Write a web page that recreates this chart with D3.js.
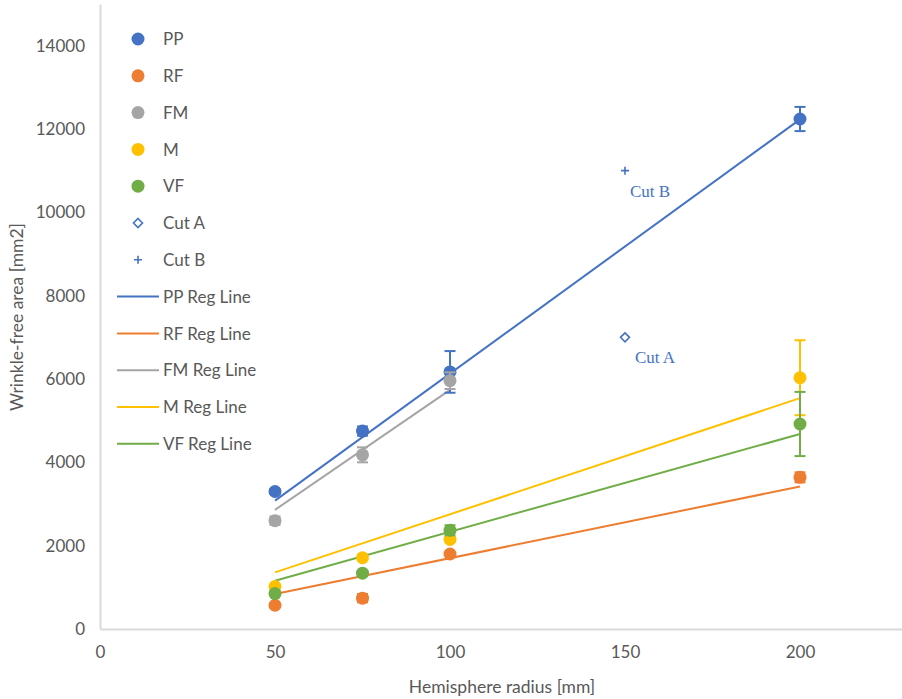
<!DOCTYPE html>
<html><head><meta charset="utf-8">
<script src="https://cdn.jsdelivr.net/npm/d3@7"></script>
<style>body{margin:0;background:#fff}svg{display:block}</style>
</head><body>
<script>
const radii = [50, 75, 100, 200];
const seriesNames = ["PP", "RF", "FM", "M", "VF"];
const colors = ["#4472C4", "#ED7D31", "#A5A5A5", "#FFC000", "#70AD47"];
const ppValues = [3300, 4750, 6170, 12240];
const rfValues = [570, 740, 1800, 3640];
const fmValues = [2600, 4180, 5960, null];
const mValues = [1020, 1710, 2150, 6030];
const vfValues = [850, 1340, 2370, 4920];
const ppErr = [60, 110, 500, 290];
const rfErr = [40, 100, 40, 120];
const fmErr = [100, 180, 200, null];
const mErr = [40, 40, 40, 900];
const vfErr = [40, 40, 120, 770];
// regression line endpoints [x0, y0, x1, y1]
const ppReg = [50, 3080, 200, 12230];
const rfReg = [50, 840, 200, 3420];
const fmReg = [50, 2860, 100, 5740];
const mReg = [50, 1360, 200, 5540];
const vfReg = [50, 1160, 200, 4680];
const cutA = [150, 7000];
const cutB = [150, 11000];
const xTicks = [0, 50, 100, 150, 200];
const yTicks = [0, 2000, 4000, 6000, 8000, 10000, 12000, 14000];
const legendLabels = ["PP", "RF", "FM", "M", "VF", "Cut A", "Cut B", "PP Reg Line", "RF Reg Line", "FM Reg Line", "M Reg Line", "VF Reg Line"];

const values = [ppValues, rfValues, fmValues, mValues, vfValues];
const errs = [ppErr, rfErr, fmErr, mErr, vfErr];
const regs = [ppReg, rfReg, fmReg, mReg, vfReg];

const W = 902, H = 699;
const svg = d3.select("body").append("svg").attr("width", W).attr("height", H);
const x = d3.scaleLinear().domain([0, 250]).range([100, 975]);
const y = d3.scaleLinear().domain([0, 15000]).range([629, 4]);
const font = "Lato, 'Open Sans', sans-serif";
const txt = "#595959";

// axes
const xa = svg.append("g").attr("transform", `translate(0,${y(0)})`)
  .call(d3.axisBottom(x).tickValues(xTicks).tickSize(0).tickPadding(17).tickFormat(d3.format("d")));
const ya = svg.append("g").attr("transform", `translate(${x(0)},0)`)
  .call(d3.axisLeft(y).tickValues(yTicks).tickSize(0).tickPadding(15).tickFormat(d3.format("d")));
[xa, ya].forEach(g => {
  g.select(".domain").attr("stroke", "#d9d9d9").attr("stroke-width", 2);
  g.selectAll("text").attr("fill", txt).style("font-family", font).style("font-size", "17px");
});

svg.append("text").attr("x", 502).attr("y", 693).attr("text-anchor", "middle")
  .attr("fill", txt).style("font-family", font).style("font-size", "17.5px").text("Hemisphere radius [mm]");
svg.append("text").attr("transform", `translate(23,317) rotate(-90)`).attr("text-anchor", "middle")
  .attr("fill", txt).style("font-family", font).style("font-size", "17.5px").text("Wrinkle-free area [mm2]");

// regression lines
regs.forEach((r, i) => {
  svg.append("line").attr("x1", x(r[0])).attr("y1", y(r[1])).attr("x2", x(r[2])).attr("y2", y(r[3]))
    .attr("stroke", colors[i]).attr("stroke-width", 2);
});

// error bars and points
values.forEach((vals, i) => {
  const g = svg.append("g");
  vals.forEach((v, j) => {
    if (v == null) return;
    const e = errs[i][j];
    const cx = x(radii[j]);
    if (e) {
      g.append("line").attr("x1", cx).attr("x2", cx).attr("y1", y(v - e)).attr("y2", y(v + e))
        .attr("stroke", colors[i]).attr("stroke-width", 2);
      [v - e, v + e].forEach(t => g.append("line").attr("x1", cx - 5.5).attr("x2", cx + 5.5)
        .attr("y1", y(t)).attr("y2", y(t)).attr("stroke", colors[i]).attr("stroke-width", 2));
    }
    g.append("circle").attr("cx", cx).attr("cy", y(v)).attr("r", 6.5).attr("fill", colors[i]);
  });
});

// Cut A / Cut B
function diamond(g, cx, cy) {
  g.append("path").attr("d", `M${cx},${cy - 4.5}L${cx + 4.5},${cy}L${cx},${cy + 4.5}L${cx - 4.5},${cy}Z`)
    .attr("fill", "none").attr("stroke", "#4472C4").attr("stroke-width", 1.6);
}
function plus(g, cx, cy) {
  g.append("path").attr("d", `M${cx - 4},${cy}H${cx + 4}M${cx},${cy - 4}V${cy + 4}`)
    .attr("stroke", "#4472C4").attr("stroke-width", 1.6);
}
diamond(svg, x(cutA[0]), y(cutA[1]));
plus(svg, x(cutB[0]), y(cutB[1]));
const serif = "'Liberation Serif', 'DejaVu Serif', serif";
svg.append("text").attr("x", x(cutA[0]) + 10).attr("y", y(cutA[1]) + 26).attr("fill", "#4472C4")
  .style("font-family", serif).style("font-size", "17px").text("Cut A");
svg.append("text").attr("x", x(cutB[0]) + 5).attr("y", y(cutB[1]) + 26).attr("fill", "#4472C4")
  .style("font-family", serif).style("font-size", "17px").text("Cut B");

// legend
const lg = svg.append("g");
legendLabels.forEach((lab, i) => {
  const cy = 39 + i * 36.8;
  if (i < 5) lg.append("circle").attr("cx", 138).attr("cy", cy).attr("r", 6.5).attr("fill", colors[i]);
  else if (i === 5) diamond(lg, 138, cy);
  else if (i === 6) plus(lg, 138, cy);
  else lg.append("line").attr("x1", 117).attr("x2", 159).attr("y1", cy).attr("y2", cy)
    .attr("stroke", colors[i - 7]).attr("stroke-width", 2);
  lg.append("text").attr("x", 163).attr("y", cy).attr("dy", "0.36em").attr("fill", txt)
    .style("font-family", font).style("font-size", "17px").text(lab);
});
</script>
</body></html>
